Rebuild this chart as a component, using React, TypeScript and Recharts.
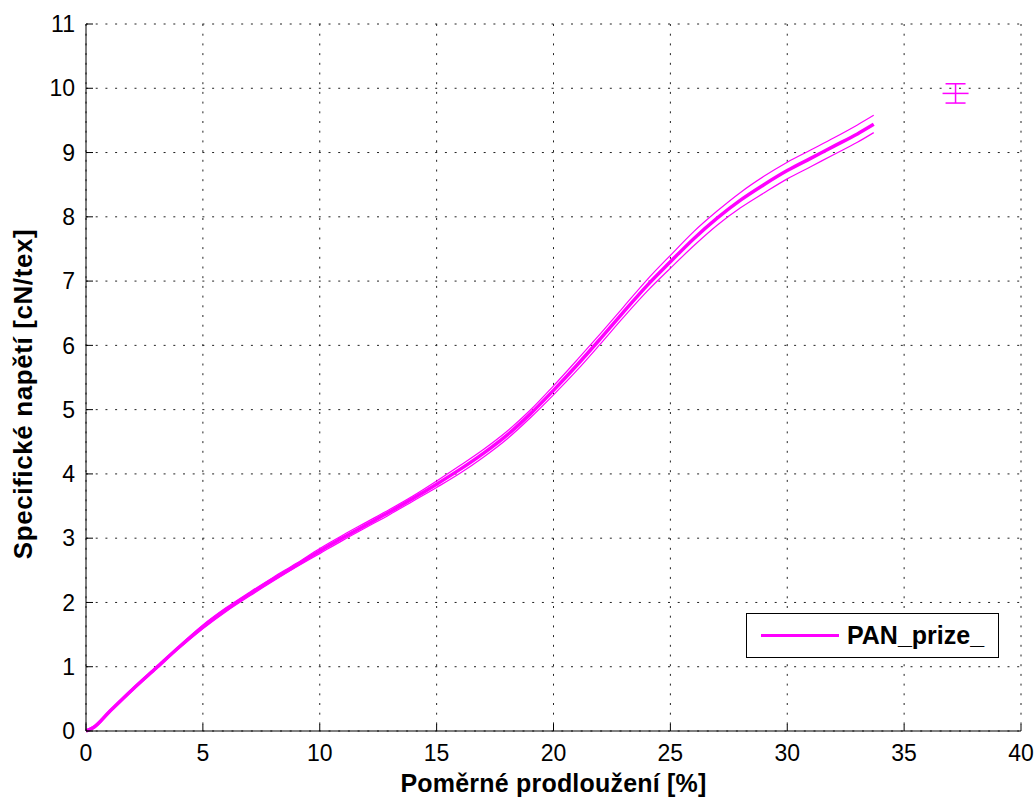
import {
  ComposedChart, Line, Scatter, ErrorBar, XAxis, YAxis, CartesianGrid, Legend, Label,
} from "recharts";

const MAGENTA = "#ff00ff";
const FONT = "'Liberation Sans', Arial, Helvetica, sans-serif";

// elongation [%]
const strainPct = [
  0, 0.3, 1, 2, 3, 4, 5, 6, 7, 8, 9, 10, 11, 12, 13, 14, 15, 16, 17,
  18, 19, 20, 21, 22, 23, 24, 25, 26, 27, 28, 29, 30, 31, 32, 33, 33.7,
];

// specific stress [cN/tex] - mean curve
const stressMean = [
  0.0, 0.05, 0.3, 0.65, 0.98, 1.31, 1.62, 1.89, 2.13, 2.36, 2.58, 2.8, 3.01, 3.21, 3.41, 3.62, 3.84, 4.07, 4.32,
  4.6, 4.93, 5.3, 5.69, 6.1, 6.52, 6.93, 7.3, 7.66, 7.98, 8.26, 8.5, 8.72, 8.91, 9.1, 9.29, 9.44,
];

// confidence band, upper edge
const stressUpper = [
  0.02, 0.07, 0.32, 0.67, 1.0, 1.33, 1.65, 1.92, 2.16, 2.39, 2.61, 2.84, 3.05, 3.25, 3.45, 3.66, 3.89, 4.13, 4.38,
  4.66, 4.99, 5.37, 5.77, 6.18, 6.6, 7.02, 7.4, 7.77, 8.09, 8.38, 8.63, 8.85, 9.04, 9.23, 9.43, 9.58,
];

// confidence band, lower edge
const stressLower = [
  0.0, 0.03, 0.28, 0.63, 0.96, 1.29, 1.59, 1.86, 2.1, 2.33, 2.55, 2.76, 2.97, 3.17, 3.37, 3.58, 3.79, 4.01, 4.26,
  4.54, 4.87, 5.23, 5.61, 6.02, 6.44, 6.84, 7.2, 7.55, 7.87, 8.14, 8.37, 8.59, 8.78, 8.97, 9.16, 9.31,
];

// break point with its spread
const breakStrain = [37.2];
const breakStress = [9.92];
const breakSpread = [0.15];

const xTicks = [0, 5, 10, 15, 20, 25, 30, 35, 40];
const yTicks = [0, 1, 2, 3, 4, 5, 6, 7, 8, 9, 10, 11];

const rows = strainPct.map((x, i) => ({
  x, mean: stressMean[i], upper: stressUpper[i], lower: stressLower[i],
}));
const breakPoint = breakStrain.map((x, i) => ({ x, y: breakStress[i], err: breakSpread[i] }));

const tickStyle = { fontSize: 23, fill: "#000", fontFamily: FONT };

function Dash(props: any) {
  const { cx, cy } = props;
  return <line x1={cx - 13} x2={cx + 13} y1={cy} y2={cy} stroke={MAGENTA} strokeWidth={1.5} />;
}

function LegendBox() {
  return (
    <div
      style={{
        width: 253, height: 45, boxSizing: "border-box", border: "1px solid #000",
        background: "#fff", display: "flex", alignItems: "center",
      }}
    >
      <span style={{ display: "inline-block", width: 78, height: 3, background: MAGENTA, marginLeft: 14 }} />
      <span style={{ marginLeft: 8, fontFamily: FONT, fontWeight: "bold", fontSize: 25, color: "#000", lineHeight: 1 }}>
        PAN_prize_
      </span>
    </div>
  );
}

function YTitle({ viewBox }: any) {
  const x = viewBox.x - 3;
  const y = 394;
  return (
    <text
      x={x} y={y} transform={`rotate(-90 ${x} ${y})`} textAnchor="middle" dominantBaseline="central"
      fontFamily={FONT} fontWeight="bold" fontSize={26} letterSpacing={0.6} fill="#000"
    >
      Specifické napětí [cN/tex]
    </text>
  );
}

export default function App() {
  return (
    <div style={{ position: "absolute", left: 0, top: 0, width: 1036, height: 798, background: "#fff" }}>
      <ComposedChart width={1036} height={798} data={rows} margin={{ top: 24, right: 15, bottom: 3, left: 26 }}>
        <CartesianGrid stroke="#222" strokeDasharray="2 7.7" />
        <XAxis
          dataKey="x" type="number" domain={[0, 40]} ticks={xTicks} interval={0}
          height={64} tickSize={-7} tickMargin={21} tick={tickStyle}
          stroke="#000" axisLine={{ stroke: "#000" }} tickLine={{ stroke: "#000" }}
        >
          <Label
            value="Poměrné prodloužení [%]" position="insideBottom" offset={3}
            style={{ fontFamily: FONT, fontWeight: "bold", fontSize: 25, fill: "#000", letterSpacing: 0.2 }}
          />
        </XAxis>
        <XAxis
          xAxisId="top" orientation="top" type="number" domain={[0, 40]} ticks={xTicks} interval={0}
          height={0} tickSize={-7} tick={false} axisLine={{ stroke: "#000" }} tickLine={{ stroke: "#000" }}
        />
        <YAxis
          type="number" domain={[0, 11]} ticks={yTicks} interval={0}
          width={60} tickSize={-7} tickMargin={18} tick={tickStyle}
          axisLine={{ stroke: "#000" }} tickLine={{ stroke: "#000" }}
        >
          <Label content={YTitle} />
        </YAxis>
        <YAxis
          yAxisId="right" orientation="right" type="number" domain={[0, 11]} ticks={yTicks} interval={0}
          width={0} tickSize={-7} tick={false} axisLine={{ stroke: "#000" }} tickLine={{ stroke: "#000" }}
        />
        <Line dataKey="upper" type="monotone" stroke={MAGENTA} strokeWidth={1.2} dot={false} isAnimationActive={false} />
        <Line dataKey="lower" type="monotone" stroke={MAGENTA} strokeWidth={1.2} dot={false} isAnimationActive={false} />
        <Line dataKey="mean" type="monotone" stroke={MAGENTA} strokeWidth={3.5} dot={false} isAnimationActive={false} />
        <Scatter data={breakPoint} dataKey="y" shape={Dash} isAnimationActive={false}>
          <ErrorBar dataKey="err" direction="y" width={10} stroke={MAGENTA} strokeWidth={1.5} isAnimationActive={false} />
        </Scatter>
        <Legend
          layout="vertical" align="center" verticalAlign="middle" content={LegendBox}
          wrapperStyle={{ left: 746, top: 613, width: 253, height: 45 }}
        />
      </ComposedChart>
    </div>
  );
}
